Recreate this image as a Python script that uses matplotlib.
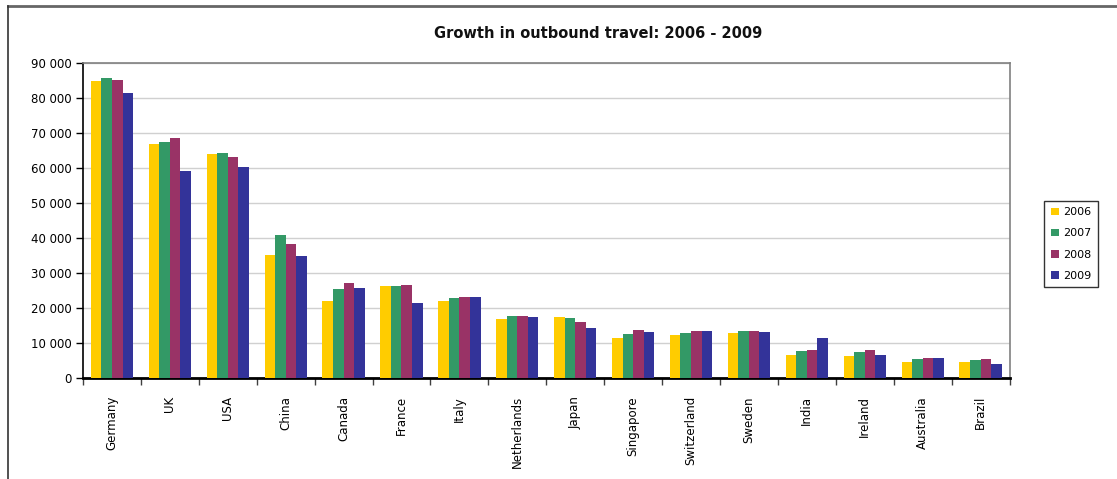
import matplotlib
matplotlib.use("Agg")
import matplotlib.pyplot as plt
import numpy as np
from matplotlib.lines import Line2D
from matplotlib.ticker import FuncFormatter, FixedLocator

countries = ["Germany", "UK", "USA", "China", "Canada", "France", "Italy",
             "Netherlands", "Japan", "Singapore", "Switzerland", "Sweden",
             "India", "Ireland", "Australia", "Brazil"]
years = ["2006", "2007", "2008", "2009"]
v2006 = [84800, 66800, 63800, 35200, 22100, 26200, 22000, 16700, 17400, 11400, 12300, 12800, 6700, 6400, 4700, 4700]
v2007 = [85600, 67200, 64100, 40900, 25400, 26200, 22800, 17600, 17100, 12500, 12900, 13400, 7600, 7300, 5400, 5000]
v2008 = [85100, 68500, 63100, 38300, 27200, 26600, 23000, 17600, 16000, 13800, 13500, 13400, 8000, 8000, 5800, 5400]
v2009 = [81300, 59000, 60100, 34800, 25700, 21400, 23000, 17400, 14200, 13200, 13300, 13100, 11500, 6700, 5800, 4100]
series = [v2006, v2007, v2008, v2009]
colors = ["#FFCC00", "#339966", "#993366", "#333399"]
yticks = [0, 10000, 20000, 30000, 40000, 50000, 60000, 70000, 80000, 90000]

fig = plt.figure(figsize=(11.17, 4.79), dpi=100)
ax = fig.add_axes([83/1117, 1 - 378/479, (1009.5 - 83)/1117, (378 - 62.5)/479])

n = len(countries)
x = np.arange(n)
w = 0.1825
for i, (vals, c, yr) in enumerate(zip(series, colors, years)):
    ax.bar(x + (i - 1.5) * w, vals, width=w, color=c, label=yr, linewidth=0, zorder=3)

ax.set_xlim(-0.5, n - 0.5)
ax.set_ylim(0, 90000)
ax.set_yticks(yticks)
ax.yaxis.set_major_formatter(FuncFormatter(lambda v, p: f"{int(v):,}".replace(",", " ")))
ax.grid(axis="y", color="#D0D0D0", linewidth=1.0, zorder=0)
ax.set_axisbelow(True)

ax.xaxis.set_major_locator(FixedLocator(np.arange(-0.5, n, 1.0)))
ax.xaxis.set_major_formatter(FuncFormatter(lambda v, p: ""))
ax.xaxis.set_minor_locator(FixedLocator(x))
ax.set_xticklabels(countries, minor=True, rotation=90, fontsize=8.5)
ax.tick_params(axis="x", which="minor", length=0, pad=13)
ax.tick_params(axis="x", which="major", length=5, width=1, direction="out", color="#404040")
ax.tick_params(axis="y", length=5, width=1, direction="out", labelsize=8.5, pad=3)

for s in ["left", "bottom"]:
    ax.spines[s].set_color("black")
ax.spines["left"].set_linewidth(1.2)
ax.spines["bottom"].set_linewidth(2)
for s in ["top", "right"]:
    ax.spines[s].set_color("#808080")
    ax.spines[s].set_linewidth(1.2)

fig.text(598/1117, 1 - 33/479, "Growth in outbound travel: 2006 - 2009",
         ha="center", va="center", fontsize=10.5, fontweight="bold", color="#111111")

leg = fig.legend(loc="center", bbox_to_anchor=(1071/1117, 1 - 244/479),
                 fontsize=8, frameon=True, fancybox=False, edgecolor="black",
                 handlelength=0.7, handleheight=0.7, handletextpad=0.4,
                 labelspacing=1.0, borderpad=0.6)
leg.get_frame().set_linewidth(1)

# outer chart border (top and left only visible)
fig.add_artist(Line2D([8/1117, 1], [1 - 5.5/479, 1 - 5.5/479], color="#666666", linewidth=2, transform=fig.transFigure))
fig.add_artist(Line2D([8/1117, 8/1117], [0, 1 - 5.5/479], color="#333333", linewidth=1.2, transform=fig.transFigure))

fig.savefig("out.png", dpi=100)
